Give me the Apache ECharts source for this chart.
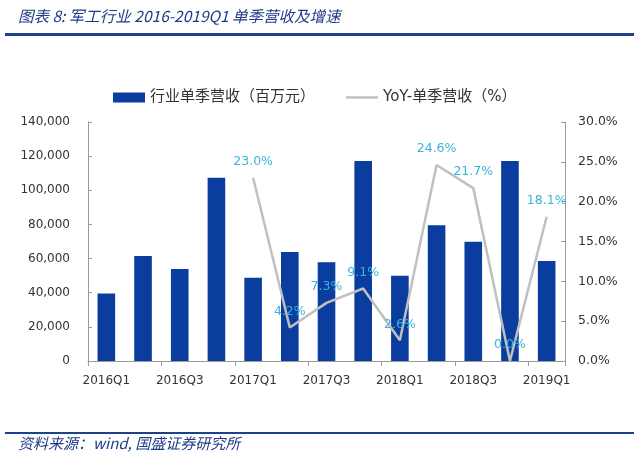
<!DOCTYPE html>
<html><head><meta charset="utf-8">
<script src="https://cdn.jsdelivr.net/npm/echarts@6/dist/echarts.min.js"></script>
<style>html,body{margin:0;padding:0;background:#fff}#c{width:640px;height:461px}</style>
</head><body><div id="c"></div>
<script>
const categories = ['2016Q1','2016Q2','2016Q3','2016Q4','2017Q1','2017Q2','2017Q3','2017Q4','2018Q1','2018Q2','2018Q3','2018Q4','2019Q1'];
const revenue = [39500, 61500, 53900, 107300, 48800, 63900, 57800, 117200, 50000, 79500, 69900, 117200, 58600];
const yoy = [null, null, null, null, 23.0, 4.2, 7.3, 9.1, 2.6, 24.6, 21.7, 0.0, 18.1];
const leftTicks = [0, 20000, 40000, 60000, 80000, 100000, 120000, 140000];
const rightTicks = [0, 5, 10, 15, 20, 25, 30];
const titleText = '图表 8: 军工行业 2016-2019Q1 单季营收及增速';
const sourceText = '资料来源：wind, 国盛证券研究所';
const barName = '行业单季营收（百万元）';
const lineName = 'YoY-单季营收（%）';

const chart = echarts.init(document.getElementById('c'));
const axisGray = '#9a9a9a';
const numFont = 'DejaVu Sans, Verdana, sans-serif';
const cjkFont = 'DejaVu Sans, Noto Sans CJK SC, sans-serif';
chart.setOption({
  animation: false,
  backgroundColor: '#fff',
  textStyle: { fontFamily: cjkFont },
  graphic: [
    { type: 'text', left: 18, top: 8, style: { text: titleText, fontSize: 15.5, fontStyle: 'italic', fill: '#1f3c86', fontFamily: 'Noto Sans CJK SC, sans-serif' } },
    { type: 'rect', shape: { x: 5, y: 33, width: 629, height: 3 }, style: { fill: '#1f3f8f' } },
    { type: 'rect', shape: { x: 5, y: 432, width: 629, height: 2 }, style: { fill: '#1f3f8f' } },
    { type: 'text', left: 18, top: 436, style: { text: sourceText, fontSize: 15, fontStyle: 'italic', fill: '#1f3c86', fontFamily: 'Noto Sans CJK SC, sans-serif' } }
  ],
  legend: {
    top: 85, left: 108, itemGap: 31, itemWidth: 32, itemHeight: 10,
    textStyle: { fontSize: 15, color: '#333', fontFamily: cjkFont },
    data: [
      { name: barName, icon: 'rect' },
      { name: lineName, icon: 'path://M0,0 L32,0 L32,2.5 L0,2.5 Z', itemStyle: { color: '#c0c0c0' } }
    ]
  },
  grid: { left: 88, right: 75, top: 122, bottom: 100 },
  xAxis: {
    type: 'category', data: categories,
    axisLine: { lineStyle: { color: axisGray } },
    axisTick: { show: true, alignWithLabel: false, length: 5, lineStyle: { color: axisGray } },
    axisLabel: { interval: 1, color: '#333', fontSize: 12, margin: 14, fontFamily: numFont }
  },
  yAxis: [
    { type: 'value', min: 0, max: 140000, interval: 20000,
      axisLine: { show: true, lineStyle: { color: axisGray } },
      axisTick: { show: true, inside: true, length: 4, lineStyle: { color: axisGray } },
      splitLine: { show: false },
      axisLabel: { color: '#333', fontSize: 12, margin: 18, fontFamily: numFont,
        formatter: v => v.toLocaleString('en-US') } },
    { type: 'value', min: 0, max: 30, interval: 5, position: 'right',
      axisLine: { show: true, lineStyle: { color: axisGray } },
      axisTick: { show: true, inside: true, length: 4, lineStyle: { color: axisGray } },
      splitLine: { show: false },
      axisLabel: { color: '#333', fontSize: 12.5, margin: 13, fontFamily: numFont, formatter: v => v.toFixed(1) + '%' } }
  ],
  series: [
    { name: barName, type: 'bar', data: revenue, barWidth: '48%',
      itemStyle: { color: '#0b3d9f' } },
    { name: lineName, type: 'line', yAxisIndex: 1, data: yoy,
      symbol: 'circle', symbolSize: 1, showSymbol: true,
      connectNulls: false,
      lineStyle: { color: '#c0c0c0', width: 2.5 }, itemStyle: { color: 'rgba(0,0,0,0)' },
      label: { show: true, position: 'top', distance: 9, color: '#3ab4dc', fontSize: 12.5, fontFamily: numFont,
        formatter: p => p.value == null ? '' : p.value.toFixed(1) + '%' } }
  ]
});
</script></body></html>
